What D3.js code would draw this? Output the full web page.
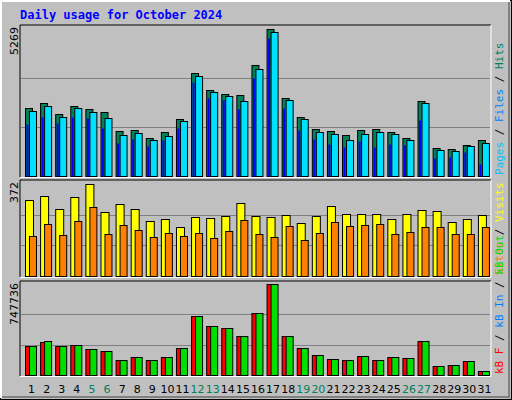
<!DOCTYPE html>
<html><head><meta charset="utf-8">
<script src="https://cdn.jsdelivr.net/npm/d3@7"></script>
<style>body{margin:0;background:#fff}text{font-family:"DejaVu Sans Mono",monospace}</style>
</head><body><svg id="c" width="512" height="400"></svg>
<script>
const days = d3.range(1, 32);
const weekend = [5, 6, 12, 13, 19, 20, 26, 27];
const hits = [2421,2599,2207,2492,2385,2278,1602,1638,1353,1566,2029,3702,3097,2955,2919,3987,5269,2812,2100,1673,1602,1460,1638,1673,1566,1353,2706,997,961,1104,1282];
const files = [2314,2492,2100,2421,2278,2065,1460,1531,1282,1424,1958,3596,3026,2884,2706,3845,5162,2741,2029,1566,1495,1282,1495,1566,1495,1282,2599,926,890,1068,1175];
const pages = [1851,2100,1887,2100,2065,1709,1175,1317,1068,1282,1709,3382,2812,2741,2385,3524,4948,2421,1638,1317,1139,1032,1246,1032,1139,1104,1994,641,676,854,427];
const visits = [307,323,271,319,372,258,291,271,222,230,197,238,234,242,295,242,238,246,214,242,283,250,250,250,230,250,266,262,218,230,246];
const sites = [161,210,165,222,279,169,206,185,157,173,161,173,153,181,226,169,157,202,145,173,218,202,206,210,169,177,197,197,169,169,197];
const kbF = [241119,273630,241119,249246,216736,200481,127332,151715,127332,151715,224864,484951,403671,387416,322395,509334,747736,322395,224864,167970,135460,119205,159843,127332,151715,143588,281757,70439,78567,111077,29801];
const kbOut = [241119,281757,241119,249246,216736,200481,127332,151715,127332,151715,224864,484951,403671,387416,322395,509334,747736,322395,224864,167970,135460,119205,159843,127332,151715,143588,281757,70439,78567,111077,29801];

const svg = d3.select("#c");
// outer frame with bevel
svg.append("rect").attr("x",0).attr("y",0).attr("width",512).attr("height",400).attr("fill","#000");
svg.append("rect").attr("x",1).attr("y",1).attr("width",510).attr("height",398).attr("fill","#c0c0c0");
svg.append("path").attr("d","M1,398V1H510").attr("stroke","#fff").attr("stroke-width",2).attr("fill","none");
svg.append("path").attr("d","M2,397H509V2").attr("stroke","#808080").attr("stroke-width",2).attr("fill","none");

svg.append("text").attr("x",20).attr("y",19).attr("fill","#0000ff").attr("font-size",12).attr("font-weight","bold")
  .text("Daily usage for October 2024");

const x = d3.scaleBand().domain(days).range([21, 489]).paddingInner(0);

function panel(top, bottom, maxTop, maxVal, label, legend, series) {
  // panel border
  svg.append("path").attr("d",`M20,${bottom}V${top}H491`).attr("stroke","#000").attr("fill","none");
  svg.append("path").attr("d",`M20,${bottom+0.5}H491V${top}`).attr("stroke","#fff").attr("fill","none");
  const y = d3.scaleLinear().domain([0, maxVal]).range([bottom - 1, maxTop]);
  [1/3, 2/3].forEach(f => {
    svg.append("line").attr("x1",21).attr("x2",490).attr("y1",Math.round(y(maxVal*f))+0.5).attr("y2",Math.round(y(maxVal*f))+0.5)
      .attr("stroke","#808080");
  });
  svg.append("text").attr("transform",`translate(18,${top+2}) rotate(-90)`).attr("text-anchor","end")
    .attr("font-size",11).attr("fill","#000").style("font-family","DejaVu Sans").text(label);
  series.forEach(s => {
    svg.append("g").selectAll("rect").data(s.data).join("rect")
      .attr("x",(d,i)=>x(days[i]) + s.dx + 0.5)
      .attr("y",d=>Math.round(y(d))+0.5)
      .attr("width",s.w)
      .attr("height",d=>Math.max(0, bottom - 1 - Math.round(y(d))))
      .attr("fill",s.color).attr("stroke",s.stroke ? "#000" : "none");
  });
  const t = svg.append("text").attr("transform",`translate(503,${bottom-2}) rotate(-90)`)
    .attr("font-size",11);
  legend.forEach((l, i) => {
    if (i) t.append("tspan").attr("fill","#000").text(" / ");
    t.append("tspan").attr("fill",l[1]).text(l[0]);
  });
}

panel(25, 177, 29, 5269, "5269", [["Pages","#00c0ff"],["Files","#0080ff"],["Hits","#00805c"]], [
  {data: hits, dx: 4, w: 7, color: "#00805c", stroke: true},
  {data: files, dx: 8, w: 7, color: "#00e0ff", stroke: true},
  {data: pages, dx: 5, w: 2, color: "#0000ff", stroke: false}
]);
panel(180, 277, 184, 372, "372", [["Sites","#ff8000"],["Visits","#ffff00"]], [
  {data: visits, dx: 4, w: 8, color: "#ffff00", stroke: true},
  {data: sites, dx: 8, w: 7, color: "#ff8000", stroke: true}
]);
panel(281, 376, 284, 747736, "747736", [["kB F","#ff0000"],["kB In","#0080ff"],["kB Out","#00e000"]], [
  {data: kbF, dx: 4, w: 7, color: "#ff0000", stroke: true},
  {data: kbOut, dx: 8, w: 7, color: "#00e000", stroke: true}
]);

svg.append("g").selectAll("text").data(days).join("text")
  .attr("x",d=>x(d)+x.bandwidth()/2+3).attr("y",393).attr("text-anchor","middle")
  .attr("font-size",11).style("font-family","DejaVu Sans")
  .attr("fill",d=>weekend.includes(d) ? "#00805c" : "#000").text(d=>d);
</script></body></html>
